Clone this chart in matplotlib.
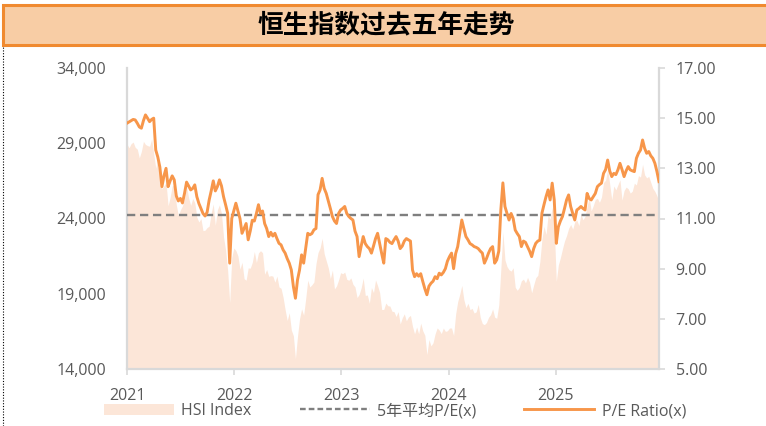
import matplotlib
matplotlib.use("Agg")
import matplotlib.pyplot as plt
from matplotlib.patches import Rectangle, Patch
from matplotlib.lines import Line2D
import pandas as pd

plt.rcParams['font.family'] = ['Open Sans', 'Noto Sans CJK SC', 'DejaVu Sans']

# ---------------- data (weekly) ----------------
start_date = "2021-04-02"
hsi_index = [
    28939, 28699, 28970, 29079, 28725, 28610, 28028, 28458, 29124, 28918,
    28842, 28801, 29288, 28310, 27344, 28004, 27321, 25961, 26179, 26391,
    24849, 25408, 26163, 26205, 24920, 24192, 24575, 24837, 25331, 26127,
    25377, 24871, 25328, 25050, 24080, 23767, 23996, 23193, 23224, 23398,
    23493, 24383, 24966, 23550, 24573, 24906, 24328, 22767, 21905, 20554,
    18415, 21405, 22039, 21872, 21518, 20638, 21089, 20001, 19898, 20717,
    20697, 21082, 21806, 21075, 21719, 21860, 21725, 20297, 20609, 20157,
    20202, 20175, 19773, 20170, 19452, 19362, 18762, 17933, 17223, 17740,
    16588, 16211, 14687, 16161, 17326, 17993, 17573, 18675, 19901, 19450,
    19593, 19781, 20991, 21738, 22044, 22689, 21660, 21190, 20719, 20010,
    20567, 19320, 19518, 19916, 20400, 20331, 20439, 19959, 19895, 20049,
    19628, 19451, 18747, 18950, 19390, 20041, 18890, 18916, 18366, 19413,
    19075, 19917, 19539, 19075, 17951, 17957, 18382, 18202, 18182, 17838,
    17810, 17486, 17813, 16995, 17399, 17664, 17203, 17454, 17559, 16830,
    16335, 16792, 16340, 17047, 16535, 16244, 14961, 15952, 15533, 15746,
    16340, 16726, 16589, 16353, 16721, 16499, 16541, 16724, 16721, 16224,
    17651, 18476, 18964, 19554, 18609, 18080, 18367, 17942, 18028, 17719,
    17799, 18293, 17417, 17021, 16946, 17090, 17430, 17612, 17989, 17444,
    17369, 18258, 20632, 23100, 21252, 20804, 20590, 20506, 20728, 19426,
    19230, 19424, 19866, 19971, 19720, 20090, 19760, 19064, 19584, 20066,
    20225, 21133, 22620, 23478, 22941, 24231, 23959, 24740, 23426, 19828,
    20915, 21395, 21980, 22504, 22868, 23345, 23601, 23290, 23792, 23893,
    23530, 24284, 23916, 24140, 24826, 25388, 24508, 24859, 25270, 25339,
    25077, 25418, 26388, 26545, 27287, 26290, 25247, 26160, 25907, 26241,
    26572, 25220, 25859, 26085, 25976, 25690, 25818, 26340, 26230, 26850,
    26750, 27600, 26900, 26700, 26800, 26400, 26000, 25800, 25500, 25100,
]
pe_ratio = [
    14.80, 14.85, 14.90, 14.95, 14.93, 14.80, 14.65, 14.60, 14.90, 15.13,
    15.00, 14.86, 14.95, 15.00, 13.73, 13.45, 13.05, 12.27, 12.70, 13.00,
    12.27, 12.50, 12.70, 12.54, 11.90, 11.70, 11.80, 11.62, 12.00, 12.45,
    12.30, 12.14, 12.20, 12.34, 11.87, 11.60, 11.40, 11.20, 11.10, 11.25,
    11.74, 12.10, 12.50, 12.10, 12.27, 12.54, 12.30, 11.87, 11.55, 11.21,
    9.22, 11.00, 11.30, 11.61, 11.30, 11.00, 10.41, 10.60, 10.80, 10.15,
    10.50, 10.93, 10.90, 11.20, 11.55, 11.20, 11.30, 10.80, 10.60, 10.28,
    10.45, 10.30, 10.41, 10.20, 10.01, 9.95, 9.75, 9.62, 9.40, 9.22,
    8.95, 8.29, 7.82, 8.55, 8.95, 9.55, 9.22, 9.80, 10.41, 10.35,
    10.40, 10.55, 10.60, 11.95, 12.14, 12.60, 12.20, 12.00, 11.70, 11.40,
    11.08, 10.90, 10.80, 11.20, 11.34, 11.40, 11.48, 11.20, 11.08, 11.00,
    10.94, 10.50, 10.28, 9.48, 9.90, 10.28, 10.00, 9.88, 9.80, 9.62,
    9.90, 10.20, 10.41, 10.00, 9.60, 9.22, 10.20, 10.15, 10.05, 10.00,
    10.15, 10.28, 10.10, 9.80, 9.90, 10.10, 10.20, 10.15, 10.10, 8.95,
    8.68, 8.80, 8.70, 8.80, 8.49, 8.20, 7.96, 8.30, 8.42, 8.50,
    8.68, 8.60, 8.82, 8.75, 8.85, 9.00, 9.30, 9.48, 9.62, 9.00,
    9.60, 9.88, 10.41, 10.94, 10.60, 10.28, 10.15, 10.00, 9.95, 9.88,
    9.85, 9.80, 9.70, 9.62, 9.22, 9.40, 9.62, 9.80, 9.88, 9.22,
    9.35, 9.70, 11.34, 12.42, 11.48, 11.20, 10.94, 11.20, 11.00, 10.54,
    10.40, 10.28, 9.88, 10.10, 10.05, 9.88, 9.70, 9.48, 9.80, 10.01,
    10.10, 10.14, 11.21, 11.55, 11.87, 12.14, 11.74, 12.41, 11.74, 10.01,
    10.67, 10.90, 11.08, 11.40, 11.74, 11.94, 11.48, 11.20, 10.94, 11.34,
    11.40, 11.48, 11.40, 11.34, 12.00, 11.80, 11.74, 11.87, 12.00, 12.27,
    12.35, 12.41, 12.80, 12.95, 13.33, 12.90, 12.67, 12.80, 12.75, 12.94,
    13.20, 12.95, 12.67, 12.90, 13.07, 12.94, 12.90, 12.87, 13.40, 13.60,
    13.73, 14.13, 13.80, 13.60, 13.67, 13.50, 13.40, 13.20, 12.87, 12.47,
]
pe_5y_avg = 11.15
year_labels = ["2021", "2022", "2023", "2024", "2025"]
left_ticks = [14000, 19000, 24000, 29000, 34000]
right_ticks = [5, 7, 9, 11, 13, 15, 17]
title_text = "恒生指数过去五年走势"
legend_labels = ["HSI Index", "5年平均P/E(x)", "P/E Ratio(x)"]

dates = pd.date_range(start_date, periods=len(hsi_index), freq="7D")

# ---------------- styling ----------------
C_AREA = "#FCE6D8"
C_LINE = "#F7964A"
C_DASH = "#7F7F7F"
C_AXIS = "#D9D9D9"
C_TEXT = "#595959"

W, H = 766, 426
fig = plt.figure(figsize=(W / 100, H / 100), dpi=100)
fig.patch.set_facecolor("white")

# title box
fig.patches.append(Rectangle((3 / W, 1 - 45 / H), 1.0, 40 / H, transform=fig.transFigure,
                             facecolor="#F8CDA5", edgecolor="#F08A30", linewidth=2.2,
                             clip_on=False, zorder=1))
fig.text(386 / W, 1 - 25 / H, title_text, ha="center", va="center", fontsize=18.5,
         fontweight="bold", family=["Noto Sans CJK SC"], color="black", zorder=3)
# dotted left border
fig.add_artist(Line2D([3 / W, 3 / W], [0, 1 - 47 / H], transform=fig.transFigure,
                      color="black", lw=0.8, ls=(0, (1, 1.5))))

ax = fig.add_axes([127 / W, 1 - 369 / H, (659 - 127) / W, (369 - 68) / H])
ax2 = ax.twinx()

ax.fill_between(dates, left_ticks[0], hsi_index, color=C_AREA, lw=0, zorder=1)
ax2.axhline(pe_5y_avg, color=C_DASH, lw=1.7, ls=(0, (3.5, 2.0)), zorder=2)
ax2.plot(dates, pe_ratio, color=C_LINE, lw=2.1, zorder=3)

ax.set_xlim(dates[0], dates[-1])
ax.set_ylim(left_ticks[0], left_ticks[-1])
ax2.set_ylim(right_ticks[0], right_ticks[-1])

tick_pos = [dates[0] + pd.Timedelta(days=365.25 * k) for k in range(len(year_labels))]
ax.set_xticks(tick_pos)
ax.set_xticklabels(year_labels)
ax.set_yticks(left_ticks)
ax.set_yticklabels([f"{v:,}" for v in left_ticks])
ax2.set_yticks(right_ticks)
ax2.set_yticklabels([f"{v:.2f}" for v in right_ticks])

for a in (ax, ax2):
    for s in a.spines.values():
        s.set_visible(False)
ax.spines["left"].set_visible(True)
ax.spines["bottom"].set_visible(True)
ax2.spines["right"].set_visible(True)
for s in (ax.spines["left"], ax.spines["bottom"], ax2.spines["right"]):
    s.set_color(C_AXIS)
    s.set_linewidth(1.6)

ax.tick_params(axis="y", length=0, pad=15, labelsize=11.5, labelcolor=C_TEXT)
ax.tick_params(axis="x", length=4, width=1.2, color=C_AXIS, pad=10, labelsize=11.5,
               labelcolor=C_TEXT)
ax2.tick_params(axis="y", length=4, width=1.2, color=C_AXIS, pad=8, labelsize=11.5,
                labelcolor=C_TEXT)

handles = [Patch(facecolor=C_AREA, edgecolor="none"),
           Line2D([], [], color=C_DASH, lw=1.7, ls=(0, (2.4, 1.3))),
           Line2D([], [], color=C_LINE, lw=2.1)]
fig.legend(handles, legend_labels, loc="center", bbox_to_anchor=(395 / W, 1 - 411 / H),
           ncol=3, frameon=False, fontsize=11.5, handlelength=4.4, handleheight=0.75,
           handletextpad=0.45, columnspacing=3.0, labelcolor=C_TEXT,
           borderpad=0, borderaxespad=0)

fig.savefig("out.png", dpi=100, facecolor="white")
